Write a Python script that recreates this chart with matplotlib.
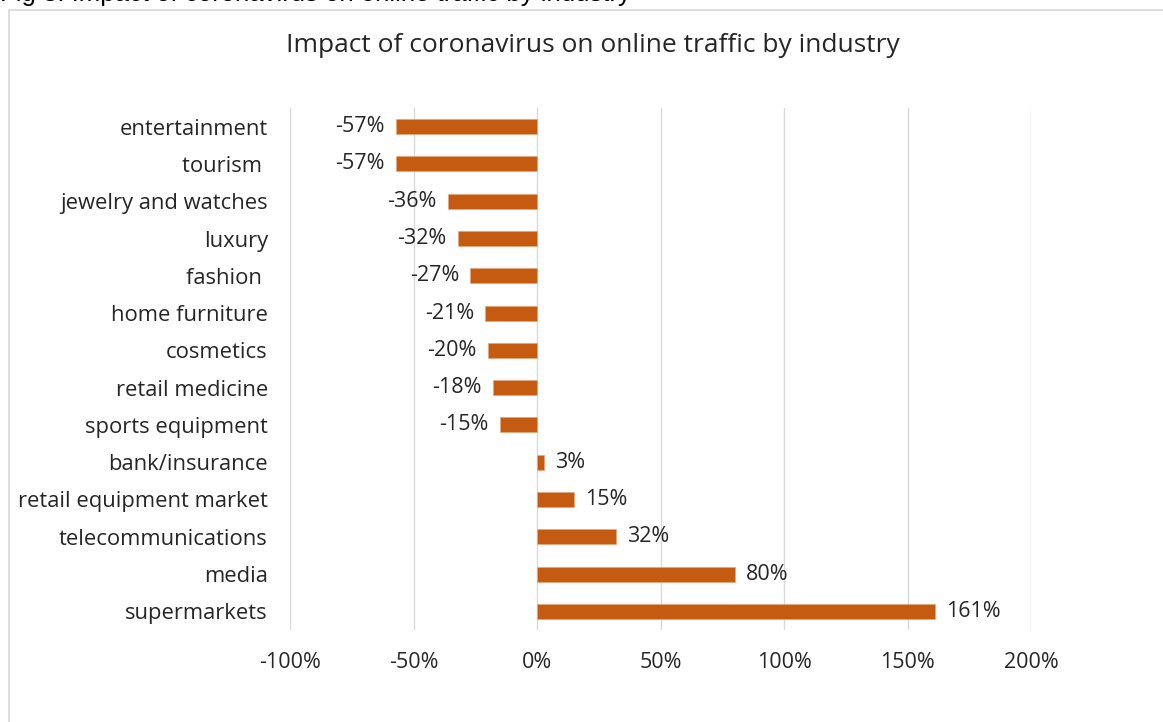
import matplotlib
matplotlib.use("Agg")
import matplotlib.pyplot as plt
from matplotlib.patches import Rectangle

categories = ["entertainment", "tourism ", "jewelry and watches", "luxury", "fashion ",
              "home furniture", "cosmetics", "retail medicine", "sports equipment",
              "bank/insurance", "retail equipment market", "telecommunications",
              "media", "supermarkets"]
values = [-57, -57, -36, -32, -27, -21, -20, -18, -15, 3, 15, 32, 80, 161]
xticks = [-100, -50, 0, 50, 100, 150, 200]
xtick_labels = ["-100%", "-50%", "0%", "50%", "100%", "150%", "200%"]

plt.rcParams['font.family'] = ['Open Sans', 'DejaVu Sans']
W, H = 1163, 722
fig = plt.figure(figsize=(W/100, H/100), dpi=100)

# outer chart border (extends past right and bottom edges)
fig.patches.append(Rectangle((9/W, -0.05), 1.1, 1.05 - 10/H, transform=fig.transFigure,
                             fill=False, edgecolor="#D9D9D9", linewidth=1.2))
# partially cut caption at top
fig.text(0, 1 - 1/H, "Fig 3. Impact of coronavirus on online traffic by industry",
         family="Liberation Sans", fontsize=18.5, va="baseline", ha="left", color="#000000")

ax = fig.add_axes([290/W, 1 - 630/H, (1031-290)/W, (630-108)/H])
y = list(range(len(categories)))
bars = ax.barh(y, values, height=0.4, color="#C55A11", edgecolor="#E8A77A", linewidth=0.5, zorder=3)
ax.set_xlim(-100, 200)
ax.set_ylim(len(categories) - 0.5, -0.5)
ax.set_yticks(y)
ax.set_yticklabels(categories, fontsize=15.8, color="#262626")
ax.set_xticks(xticks)
ax.set_xticklabels(xtick_labels, fontsize=15.5, color="#262626")
ax.tick_params(axis="y", length=0, pad=16)
ax.tick_params(axis="x", length=0, pad=16)
ax.grid(axis="x", color="#D9D9D9", linewidth=1, zorder=0)
for s in ax.spines.values():
    s.set_visible(False)
ax.bar_label(bars, labels=[f"{v}%" for v in values], padding=8, fontsize=15.5, color="#262626")

fig.text(593/W, 1 - 46/H, "Impact of coronavirus on online traffic by industry",
         ha="center", va="center", fontsize=19, color="#262626")

fig.savefig("out.png", dpi=100)
